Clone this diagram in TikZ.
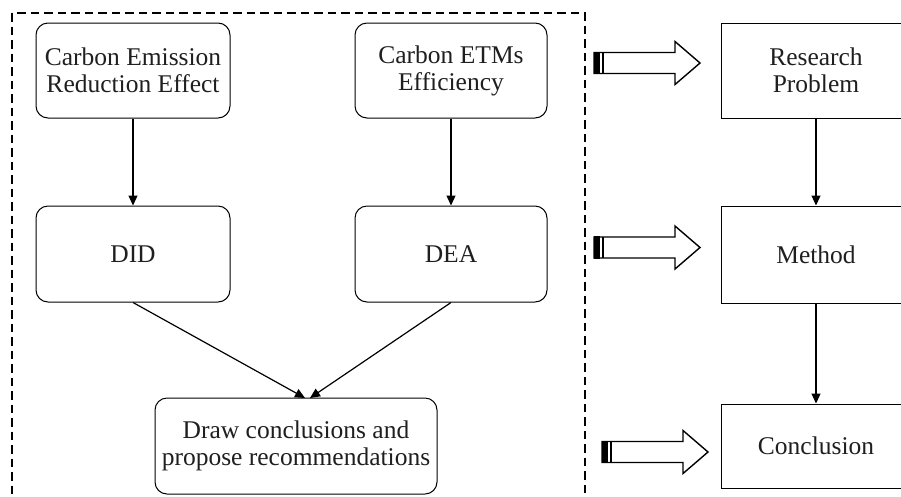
\documentclass[tikz,border=0pt]{standalone}
\usepackage{fontspec}
\setmainfont{Liberation Serif}
\usetikzlibrary{arrows.meta}
\newcommand\hollowarrow[4]{%
  \draw[blockline] (#1,#2-10.5) -- (#3,#2-10.5) -- (#3,#2-21.5) -- (#4,#2) -- (#3,#2+21.5) -- (#3,#2+10.5) -- (#1,#2+10.5) -- cycle;
  \fill (#1-0.5,#2-11.2) rectangle (#1+6,#2+11.2);
  \draw[line width=1.5pt] (#1+9,#2-10.5) -- (#1+9,#2+10.5);
}
\tikzset{
  txt/.style={font=\fontsize{25.5}{27}\selectfont, align=center, text=black!88},
  rbox/.style={txt, draw, line width=1pt, rounded corners=12pt, inner sep=0pt},
  sbox/.style={txt, draw, line width=1pt, inner sep=0pt},
  conn/.style={line width=1.2pt, -{Triangle[length=10pt,width=9pt]}},
  blockline/.style={line width=1.4pt, line join=miter},
  frame/.style={line width=1.05pt, dash pattern=on 8.5pt off 5pt}
}
\begin{document}
\begin{tikzpicture}[x=1pt,y=-1pt]
\useasboundingbox (0,0) rectangle (901,496);
\draw[frame] (12,13) rectangle (585,520);
\node[rbox, minimum width=194pt, minimum height=95pt] (A) at (133,70.5) {Carbon Emission\\Reduction Effect};
\node[rbox, minimum width=192pt, minimum height=95pt] (B) at (451,70.5) {Carbon ETMs\\Efficiency};
\node[rbox, minimum width=194pt, minimum height=96pt] (did) at (133,254) {DID};
\node[rbox, minimum width=192pt, minimum height=96pt] (dea) at (451,254) {DEA};
\node[rbox, minimum width=282pt, minimum height=96pt] (conc) at (296,446) {Draw conclusions and\\propose recommendations};
\node[sbox, minimum width=190pt, minimum height=95pt] (rp) at (816,70.5) {Research\\Problem};
\node[sbox, minimum width=190pt, minimum height=97pt] (meth) at (816,254.5) {Method};
\node[sbox, minimum width=190pt, minimum height=84pt] (concl) at (816,446) {Conclusion};
\coordinate (c1) at (305,398);
\coordinate (c2) at (310,398);
\draw[conn] (A) -- (did);
\draw[conn] (B) -- (dea);
\draw[conn] (did.south) -- (c1);
\draw[conn] (dea.south) -- (c2);
\draw[conn] (rp) -- (meth);
\draw[conn] (meth) -- (concl);
\hollowarrow{594}{63}{675}{700}
\hollowarrow{594}{247.5}{675}{700}
\hollowarrow{602}{452}{683}{708}
\end{tikzpicture}
\end{document}
